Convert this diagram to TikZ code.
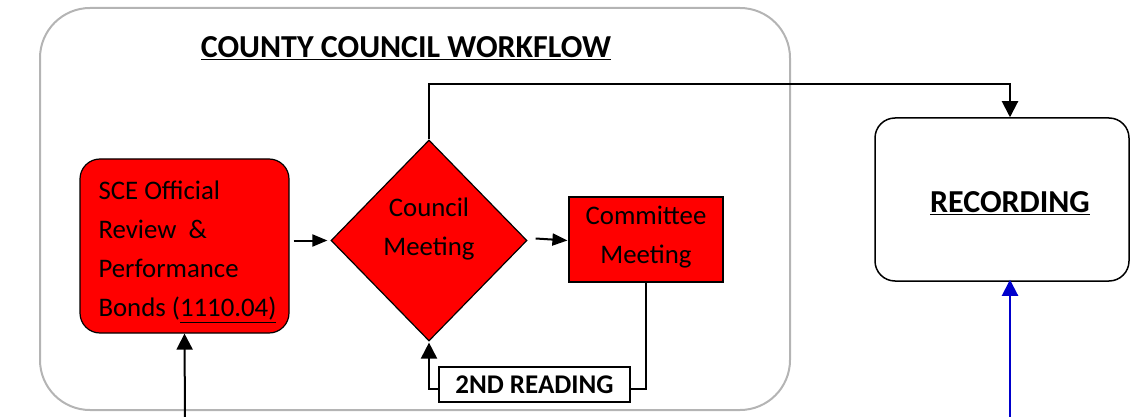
\documentclass[tikz,border=0pt]{standalone}
\usepackage{fontspec}
\setmainfont{Carlito}
\usetikzlibrary{shapes.geometric,arrows.meta}
\definecolor{frame}{HTML}{B4B4B4}
\definecolor{fillred}{HTML}{FF0000}
\definecolor{arrblue}{HTML}{0000CC}
\tikzset{
  redbox/.style={draw=black, line width=1.2pt, fill=fillred, inner sep=0pt},
  conn/.style={draw=black, line width=2pt},
  arr/.style={conn, -{Triangle[length=16pt,width=16pt]}},
  harr/.style={conn, -{Triangle[length=15pt,width=12pt]}},
  bodytext/.style={font=\fontsize{26.8}{39}\selectfont},
}
\begin{document}
\begin{tikzpicture}[x=1pt,y=-1pt]
\useasboundingbox (0,0) rectangle (1130,417);
% outer frame
\draw[frame, line width=2pt, rounded corners=50pt] (40,8) rectangle (790,410);
\node (title) at (406,48) {\fontsize{32}{36}\selectfont\bfseries\underline{COUNTY COUNCIL WORKFLOW}};
% SCE box
\node[redbox, rounded corners=20pt, minimum width=209pt, minimum height=174pt] (sce) at (184.5,246) {};
\node[bodytext, align=left, anchor=west] (scetext) at (95,252) {SCE Official\\Review~~\&\\Performance\\Bonds (\underline{1110.04)}};
% diamond
\node[redbox, diamond, minimum width=196pt, minimum height=201pt] (d) at (429,240.5) {};
\node[bodytext, align=center] (dtext) at (429,229) {Council\\Meeting};
% committee
\node[redbox, minimum width=154pt, minimum height=85pt, inner sep=0pt] (cm) at (646,239.5) {};
\node[bodytext, align=center] (cmtext) at (646,237.5) {Committee\\Meeting};
% 2nd reading
\node[draw=black, line width=2pt, fill=white, minimum width=191pt, minimum height=35pt, inner sep=0pt, font=\fontsize{27}{30}\selectfont\bfseries] (rd) at (534.5,384.5) {2ND READING};
% recording
\node[draw=black, line width=1.5pt, rounded corners=20pt, minimum width=254pt, minimum height=163pt, inner sep=0pt] (rec) at (1002,199.5) {};
\node[font=\fontsize{32}{36}\selectfont\bfseries] (rectext) at (1010,203) {\underline{RECORDING}};
% coordinates for free ends
\coordinate (bl) at (185,420);
\coordinate (br) at (1010,420);
\coordinate (top) at (429,84);
% connectors
\draw[harr] ([xshift=4pt]sce.east |- d.west) -- ([xshift=-3pt]d.west);
\draw[harr] ([xshift=8pt,yshift=2pt]d.east) -- ([xshift=-1pt]cm.west |- d.east);
\draw[conn] (cm.south) |- ([yshift=-4pt]rd.east);
\draw[arr] ([yshift=-4pt]rd.west) -| ([yshift=-1pt]d.south);
\draw[arr] (d.north) -- (top) -| ([xshift=8pt]rec.north);
\draw[arr] (bl) -- (sce.south);
\draw[conn, draw=arrblue, -{Triangle[length=16pt,width=16pt]}] (br) -- ([xshift=8pt,yshift=2pt]rec.south);
\end{tikzpicture}
\end{document}
